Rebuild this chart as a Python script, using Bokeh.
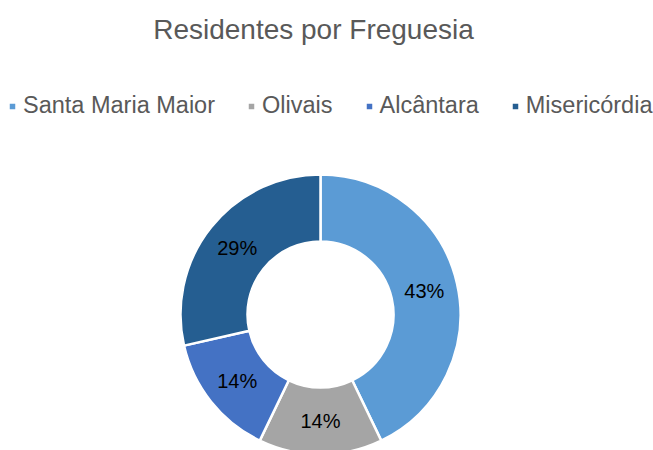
import numpy as np
from bokeh.plotting import figure
from bokeh.models import ColumnDataSource, Range1d, Label, Legend, LegendItem
from bokeh.embed import file_html
from bokeh.resources import INLINE

title = "Residentes por Freguesia"
categories = ["Santa Maria Maior", "Olivais", "Alcântara", "Misericórdia"]
values = [3, 1, 1, 2]
colors = ["#5B9BD5", "#A5A5A5", "#4472C4", "#255E91"]

W, H = 653, 450
cx, cy = 320, 136          # donut centre within the figure (px from left / bottom)
r_out, r_in = 140, 73
FONT = "Liberation Sans"

vals = np.array(values, dtype=float)
frac = vals / vals.sum()
ends = np.pi / 2 - 2 * np.pi * np.cumsum(frac)
starts = np.concatenate([[np.pi / 2], ends[:-1]])
mids = (starts + ends) / 2
r_mid = (r_in + r_out) / 2
labels = [f"{round(f * 100):.0f}%" for f in frac]

src = ColumnDataSource(dict(
    name=categories, start=starts, end=ends, color=colors,
    lx=r_mid * np.cos(mids), ly=r_mid * np.sin(mids), lab=labels,
))

p = figure(width=W, height=H, output_backend="svg", toolbar_location=None,
           x_range=Range1d(-cx, W - cx), y_range=Range1d(-cy, H - cy),
           min_border=0, outline_line_color=None, background_fill_color="white")
p.axis.visible = False
p.grid.visible = False

wr = p.annular_wedge(x=0, y=0, inner_radius=r_in, outer_radius=r_out,
                     start_angle="start", end_angle="end", direction="clock",
                     fill_color="color", line_color="white", line_width=2.5, source=src)

p.text(x="lx", y="ly", text="lab", source=src, text_align="center",
       text_baseline="middle", text_font_size="20px", text_color="#000000",
       text_font={"value": FONT})

items = [LegendItem(label=c, renderers=[wr], index=i) for i, c in enumerate(categories)]
legend = Legend(items=items, orientation="horizontal", location=(7, 331),
                label_text_font=FONT, label_text_font_size="23.5px", label_text_color="#595959",
                glyph_width=10, glyph_height=10, label_standoff=6, spacing=31,
                padding=0, margin=0, border_line_color=None, background_fill_alpha=0)
p.add_layout(legend, "center")

p.add_layout(Label(x=313, y=421, x_units="screen", y_units="screen", text=title,
                   text_align="center", text_baseline="alphabetic",
                   text_font=FONT, text_font_size="28px", text_color="#595959"))

open("out.html", "w").write(file_html(p, INLINE))
